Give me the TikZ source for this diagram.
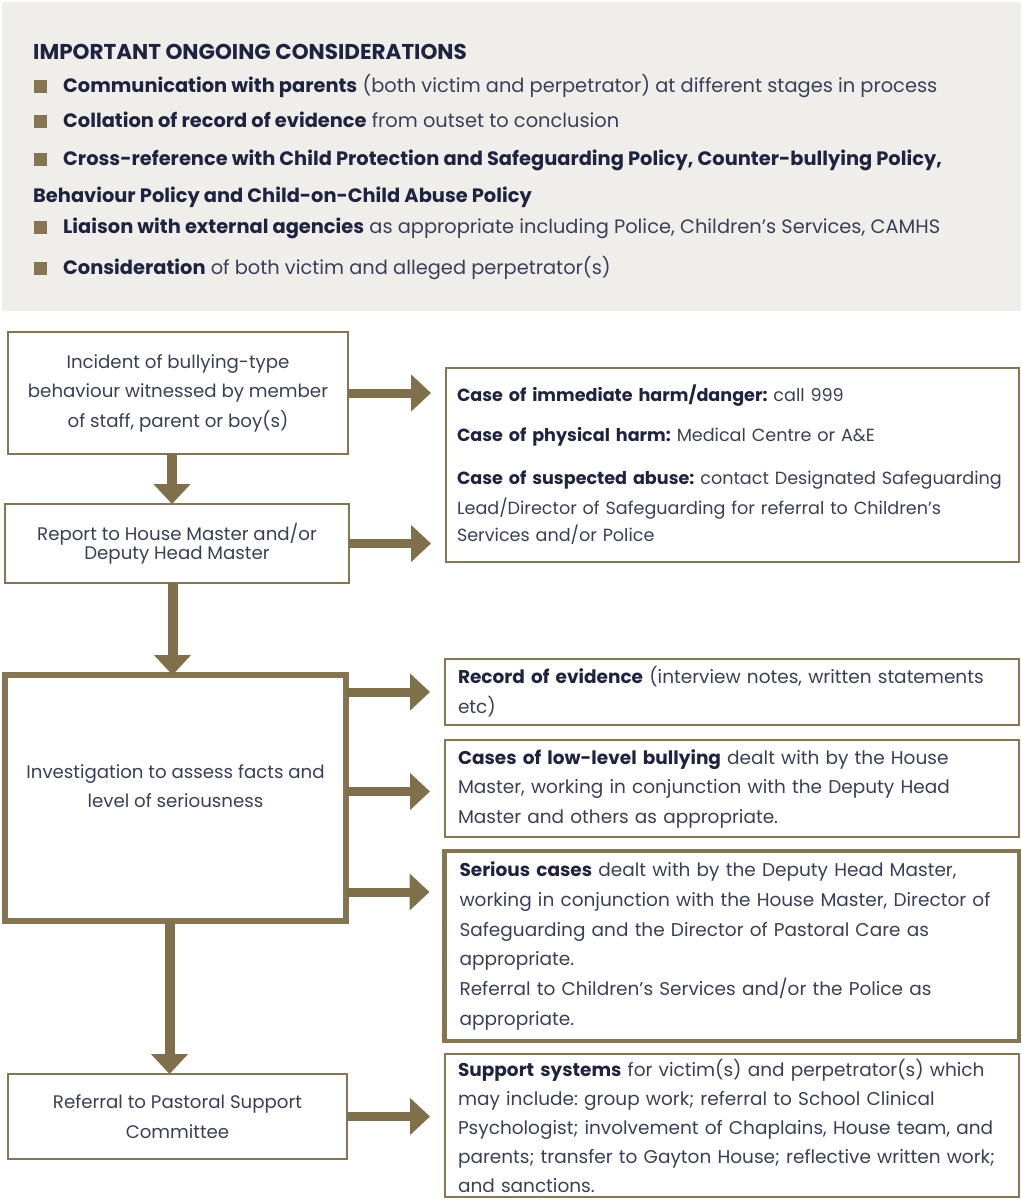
\documentclass[tikz,border=0pt]{standalone}
\usepackage{fontspec}
\setmainfont{Poppins}
\usetikzlibrary{arrows.meta}
\definecolor{gold}{HTML}{857550}
\definecolor{arrowc}{HTML}{7F704B}
\definecolor{txt}{HTML}{3A3E58}
\definecolor{dark}{HTML}{1F2340}
\definecolor{bg}{HTML}{EFEEEA}
\newcommand{\hlb}[1]{\textbf{\color{dark}#1}}
\frenchspacing
\hyphenpenalty=10000
\exhyphenpenalty=10000
\tikzset{
  toptxt/.style={anchor=base west, inner sep=0pt, text=txt, font=\fontsize{19.4}{22}\selectfont},
  sq/.style={fill=gold, minimum size=13pt, inner sep=0pt, anchor=center},
  lbox/.style={draw=gold, line width=2pt, outer sep=0pt, align=center, text=txt, inner sep=0pt, anchor=north west, font=\fontsize{18.2}{29.5}\selectfont},
  rbox/.style={draw=gold, line width=1.8pt, outer sep=0pt, align=left, text=txt, inner xsep=11pt, inner ysep=0pt, anchor=north west, font=\fontsize{18.5}{30}\selectfont},
  harrow/.style={draw=arrowc, line width=9pt, shorten >=15pt, -{Triangle[width=36pt,length=20pt]}},
  varrow/.style={draw=arrowc, line width=10pt, -{Triangle[width=36pt,length=20pt]}},
}
\begin{document}
\begin{tikzpicture}[x=1pt,y=-1pt]
\useasboundingbox (0,0) rectangle (1021,1203);
\fill[bg] (2,2) rectangle (1021,311);
% top box
\node[toptxt, text=dark, font=\fontsize{21.5}{24}\selectfont] (t0) at (33,59.5) {\bfseries IMPORTANT ONGOING CONSIDERATIONS};
\node[sq] (s1) at (40,86) {};
\node[toptxt] (t1) at (63,92) {\hlb{Communication with parents} (both victim and perpetrator) at different stages in process};
\node[sq] (s2) at (40,121) {};
\node[toptxt] (t2) at (63,127) {\hlb{Collation of record of evidence} from outset to conclusion};
\node[sq] (s3) at (40,159) {};
\node[toptxt] (t3) at (63,165) {\hlb{Cross-reference with Child Protection and Safeguarding Policy, Counter-bullying Policy,}};
\node[toptxt] (t4) at (33,202) {\hlb{Behaviour Policy and Child-on-Child Abuse Policy}};
\node[sq] (s4) at (40,227) {};
\node[toptxt] (t5) at (63,233) {\hlb{Liaison with external agencies} as appropriate including Police, Children’s Services, CAMHS};
\node[sq] (s5) at (40,268) {};
\node[toptxt] (t6) at (63,274) {\hlb{Consideration} of both victim and alleged perpetrator(s)};
% left boxes
\node[lbox, minimum width=340pt, minimum height=122pt] (b1) at (8,332)
  {Incident of bullying-type\\behaviour witnessed by member\\of staff, parent or boy(s)};
\node[lbox, minimum width=344pt, minimum height=79pt, font=\fontsize{18.2}{16}\selectfont] (b2) at (5,504)
  {Report to House Master and/or\\Deputy Head Master};
\node[lbox, line width=6pt, minimum width=341pt, minimum height=246pt] (b3) at (5,675) {};
\node[align=center, text=txt, inner sep=0pt, font=\fontsize{18.2}{29.5}\selectfont] (b3t) at (175.5,786)
  {Investigation to assess facts and\\level of seriousness};
\node[lbox, minimum width=339pt, minimum height=85pt] (b4) at (8,1074)
  {Referral to Pastoral Support\\Committee};
% right boxes
\node[rbox, text width=551pt, minimum height=194pt, font=\fontsize{17.6}{30}\selectfont] (R1) at (446,368)
  {\hlb{Case of immediate harm/danger:} call 999\\[10pt]
   \hlb{Case of physical harm:} Medical Centre or A\&E\\[13pt]
   \hlb{Case of suspected abuse:} contact Designated Safeguarding\\
   Lead/Director of Safeguarding for referral to Children’s\\[-3pt]
   Services and/or Police};
\node[rbox, text width=548pt, minimum height=66pt, inner xsep=13pt] (R2) at (445,659)
  {\hlb{Record of evidence} (interview notes, written statements\\etc)};
\node[rbox, text width=548pt, minimum height=97pt, inner xsep=13pt, font=\fontsize{18.5}{29.5}\selectfont] (R3) at (445,740)
  {\hlb{Cases of low-level bullying} dealt with by the House\\
   Master, working in conjunction with the Deputy Head\\
   Master and others as appropriate.};
\node[rbox, line width=4.5pt, text width=544.5pt, minimum height=190pt, inner xsep=15pt, font=\fontsize{18.5}{29.8}\selectfont] (R4) at (444.5,851)
  {\hlb{Serious cases} dealt with by the Deputy Head Master,\\
   working in conjunction with the House Master, Director of\\
   Safeguarding and the Director of Pastoral Care as\\
   appropriate.\\
   Referral to Children’s Services and/or the Police as\\
   appropriate.};
\node[rbox, text width=548pt, minimum height=143pt, inner xsep=13pt, font=\fontsize{18.5}{29}\selectfont] (R5) at (445,1054)
  {\hlb{Support systems} for victim(s) and perpetrator(s) which\\
   may include: group work; referral to School Clinical\\
   Psychologist; involvement of Chaplains, House team, and\\
   parents; transfer to Gayton House; reflective written work;\\
   and sanctions.};
% vertical arrows
\draw[varrow] ([xshift=-6pt]b1.south) -- ([xshift=-6pt]b1.south |- b2.north);
\draw[varrow] ([xshift=-4.5pt]b2.south) -- ([xshift=-4.5pt]b2.south |- b3.north);
\draw[varrow] ([xshift=-6pt]b3.south) -- ([xshift=-6pt]b3.south |- b4.north);
% horizontal arrows
\draw[harrow] (b1.east) -- (b1.east -| R1.west);
\draw[harrow] (b2.east) -- (b2.east -| R1.west);
\draw[harrow] (b3.east |- R2.west) -- (R2.west);
\draw[harrow] ([yshift=-3pt]b3.east |- R3.west) -- ([yshift=-3pt]R3.west);
\draw[harrow] ([yshift=-94pt]b3.east) -- ([yshift=-94pt]b3.east -| R4.west);
\draw[harrow] (b4.east) -- (b4.east -| R5.west);
\end{tikzpicture}
\end{document}
